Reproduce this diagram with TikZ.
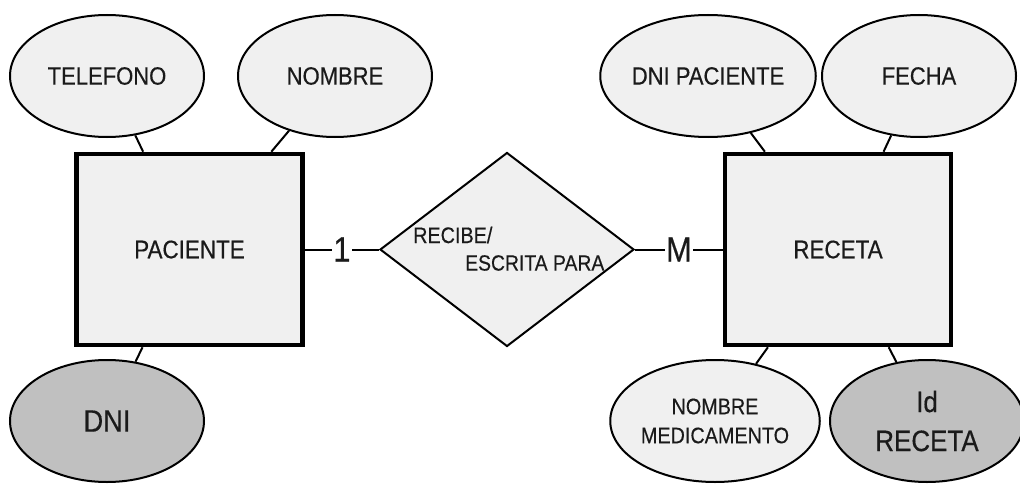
\documentclass[tikz,border=0pt]{standalone}
\usepackage{fontspec}
\setmainfont[FakeStretch=0.88, FakeBold=0.4]{Liberation Sans}
\usetikzlibrary{shapes.geometric}
\definecolor{lightfill}{HTML}{F0F0F0}
\definecolor{keyfill}{HTML}{C0C0C0}
\definecolor{inktext}{HTML}{1A1A1A}
\begin{document}
\begin{tikzpicture}[x=1pt,y=1pt,
  every node/.style={text=inktext},
  entity/.style={draw=black, line width=4.5pt, fill=lightfill, rectangle,
    minimum width=226pt, minimum height=191pt, inner sep=0pt,
    font=\fontsize{25.5}{29}\selectfont},
  attr/.style={draw=black, line width=2pt, fill=lightfill, ellipse,
    minimum width=194pt, minimum height=122pt, inner sep=0pt,
    font=\fontsize{25}{29}\selectfont, align=center},
  keyattr/.style={attr, fill=keyfill},
  relation/.style={draw=black, line width=2pt, fill=lightfill, diamond,
    minimum width=254pt, minimum height=194pt, inner sep=0pt},
  link/.style={draw=black, line width=2pt},
  card/.style={fill=white, inner sep=1.5pt, font=\fontsize{35}{38}\selectfont}
]
\useasboundingbox (0,0) rectangle (1020,483);

% entities
\node[entity] (pac) at (189.5,233.5) {PACIENTE};
\node[entity] (rec) at (838,233.5) {RECETA};

% relationship
\node[relation] (rel) at (507,233.5) {};
\node[anchor=west, inner sep=0pt, font=\fontsize{22.5}{26}\selectfont] (relA) at (413,248) {RECIBE/};
\node[anchor=west, inner sep=0pt, font=\fontsize{22}{26}\selectfont] (relB) at (465,220) {ESCRITA PARA};

% attributes of PACIENTE
\node[attr] (tel) at (107,407) {TELEFONO};
\node[attr] (nom) at (335,407) {NOMBRE};
\node[keyattr, font=\fontsize{31}{34}\selectfont] (dni) at (107,62) {DNI};

% attributes of RECETA
\node[attr] (dnip) at (708,407) {DNI PACIENTE};
\node[attr] (fec) at (919,407) {FECHA};
\node[attr, font=\fontsize{22.5}{29}\selectfont] (nmed) at (715,62) {NOMBRE\\MEDICAMENTO};
\node[keyattr, font=\fontsize{29.5}{39}\selectfont] (idr) at (927,62) {Id\\RECETA};

% attribute links
\draw[link] (tel) -- (pac);
\draw[link] (nom) -- (pac);
\draw[link] (dni) -- (pac);
\draw[link] (dnip) -- (rec);
\draw[link] (fec) -- (rec);
\draw[link] (nmed) -- (rec);
\draw[link] (idr) -- (rec);

% relationship links with cardinalities
\draw[link] (pac) -- node[card] (c1) {1} (rel);
\draw[link] (rel) -- node[card] (cm) {M} (rec);
\end{tikzpicture}
\end{document}
